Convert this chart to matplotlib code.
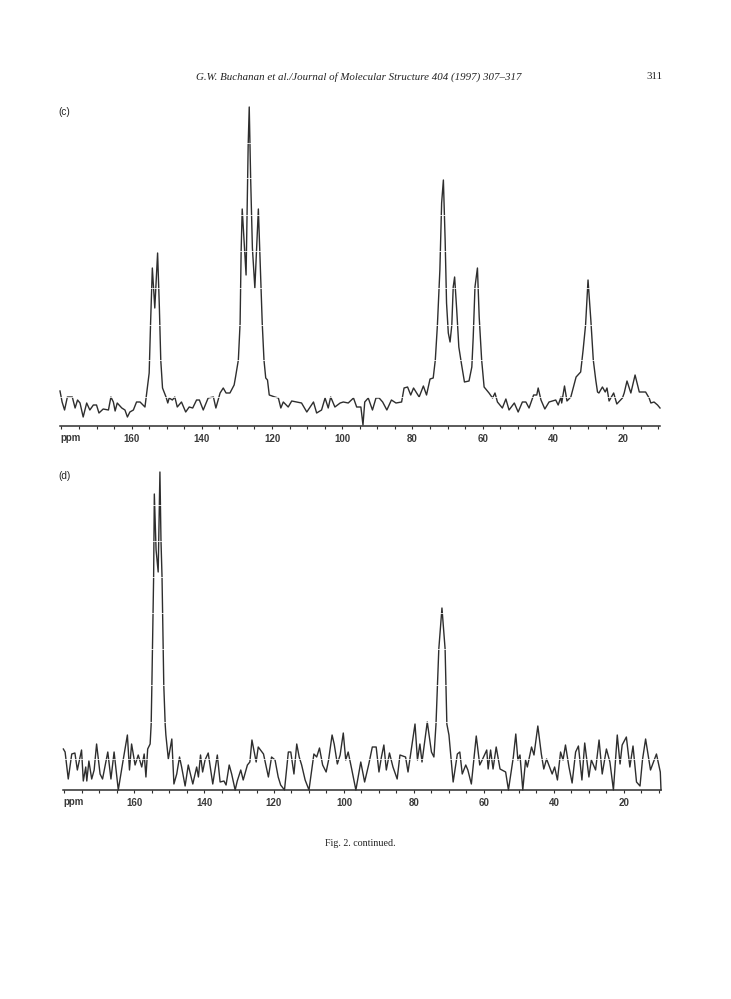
import matplotlib
matplotlib.use("Agg")
import matplotlib.pyplot as plt
from matplotlib.ticker import MultipleLocator

# ---------- data (ppm, intensity) ----------
ppm_c = [180.4,179.8,179.1,178.3,177.6,176.9,176.1,175.4,174.7,173.8,172.8,171.9,170.9,170.0,169.3,168.1,166.6,165.9,165.2,164.7,
         164.1,162.8,161.9,161.2,160.5,159.5,158.6,157.6,156.2,155.7,155.0,154.6,154.1,153.4,152.6,152.1,151.7,151.2,150.2,
         149.7,149.3,148.4,147.7,147.0,145.8,144.6,143.6,142.6,141.5,140.7,139.6,138.2,136.7,136.0,134.8,133.9,133.1,132.0,130.8,
         130.4,129.6,129.1,128.8,128.5,127.4,127.1,126.8,126.5,126.1,125.6,124.9,123.9,123.4,122.8,122.3,121.8,121.3,120.8,119.2,118.2,117.5,116.8,115.4,114.4,
         113.0,111.6,110.1,108.2,107.3,105.9,104.9,104.0,103.3,102.1,100.6,99.7,98.3,96.8,95.9,94.7,94.1,93.6,92.6,91.4,
         90.4,89.5,88.5,87.3,86.0,84.7,83.1,82.4,81.4,80.5,79.7,78.1,76.9,76.0,75.0,74.1,73.5,72.9,72.2,71.7,71.2,70.7,70.3,
         69.8,69.3,68.8,68.4,68.0,67.4,66.8,66.0,65.2,63.9,63.1,62.7,62.2,61.5,61.0,60.3,59.6,58.2,57.2,56.5,55.8,54.4,53.4,52.5,51.0,49.9,
         48.7,47.7,46.8,45.5,44.6,44.2,43.4,42.3,41.1,39.2,38.5,37.7,37.5,36.7,36.0,34.9,33.4,32.1,31.4,30.7,
         30.0,29.2,28.5,27.8,27.3,26.9,25.9,25.1,24.6,24.0,22.7,21.8,20.2,19.7,18.9,17.8,16.6,15.4,13.6,12.6,
         12.1,11.2,10.2,9.5]
int_c = [35,24,16,29,29,29,18,26,23,9,23,16,21,21,13,17,16,29,24,15,
         23,18,16,9,14,16,24,24,19,33,53,103,158,118,173,119,66,38,29,
         23,28,26,29,19,24,14,19,18,26,26,16,28,29,18,33,38,33,33,41,
         49,66,103,176,217,151,218,281,319,248,178,138,217,166,103,66,48,46,31,29,28,18,24,19,25,
         24,23,14,24,13,16,28,18,29,19,23,24,23,28,19,19,1,24,28,16,
         28,28,24,16,26,23,24,38,39,31,38,29,40,31,47,48,66,101,156,223,246,186,123,
         93,84,101,139,149,116,79,61,44,45,59,89,139,158,109,66,39,33,28,33,24,18,27,16,23,14,
         24,24,18,31,31,38,26,17,24,26,21,29,23,40,25,29,49,54,76,101,
         146,106,66,46,34,33,39,34,38,25,33,22,28,33,45,33,51,34,34,28,
         23,24,21,18]

ppm_d = [180.2,179.7,178.8,177.8,176.9,176.2,175.0,174.5,173.8,173.5,172.9,172.1,171.4,170.7,169.7,169.0,167.5,166.6,165.7,164.5,
         163.2,161.9,161.3,160.7,159.7,158.8,157.8,157.1,156.6,156.1,155.4,155.1,154.9,154.4,154.2,153.7,153.1,152.6,152.3,152.0,
         151.5,151.1,150.9,150.2,149.2,148.6,147.8,147.0,146.4,145.4,144.5,143.2,142.1,141.6,141.0,140.4,139.7,138.8,137.5,136.2,
         135.4,134.3,133.7,132.8,132.1,131.1,130.5,129.5,128.8,127.6,126.9,126.3,125.1,124.5,123.0,121.6,120.7,119.7,118.8,118.1,
         117.0,115.9,115.2,114.3,113.5,112.8,112.1,111.1,110.0,109.2,108.6,107.8,107.0,106.1,105.1,104.4,103.4,102.8,101.9,101.1,
         100.2,99.5,98.8,97.8,96.6,95.2,94.1,92.9,91.9,90.8,90.0,89.3,88.6,87.9,87.0,86.0,84.8,84.0,82.4,81.7,
         81.0,79.7,79.0,78.3,77.7,76.2,75.0,74.3,73.7,72.9,72.0,71.1,70.6,70.0,68.8,67.6,66.9,66.2,65.2,64.6,
         63.6,63.1,62.2,61.2,60.5,59.2,58.8,58.1,57.4,56.5,55.4,53.8,53.0,51.6,50.9,50.3,49.7,48.9,48.1,47.6,
         46.4,45.7,44.6,43.6,42.9,42.1,40.5,39.8,39.0,38.1,37.4,36.7,35.7,34.8,33.8,33.0,32.0,31.2,30.0,29.3,
         28.1,27.1,26.2,25.0,24.0,23.0,21.9,21.1,20.5,19.3,18.3,17.4,16.4,15.4,14.7,13.8,13.2,12.4,10.7,9.6,9.4]
int_d = [41,38,11,36,37,20,40,9,23,9,29,11,20,46,16,11,38,11,38,0,
         28,55,20,46,25,35,23,36,13,41,46,66,105,213,296,240,218,318,250,213,
         105,66,55,31,51,6,16,33,23,4,25,6,23,13,35,18,30,37,6,35,
         8,9,5,25,16,0,9,20,10,25,28,50,28,43,36,13,33,30,13,5,
         0,38,38,16,46,33,25,10,0,21,36,33,42,25,18,30,55,46,26,35,
         57,30,38,21,0,28,8,26,43,43,18,33,45,20,37,23,11,35,33,18,
         35,66,30,46,28,68,38,33,66,141,182,141,66,55,8,36,38,16,25,20,
         6,23,54,25,30,40,21,40,21,43,21,18,0,33,56,30,35,0,30,23,
         43,35,64,36,21,31,16,23,10,38,30,45,23,7,38,44,10,47,13,30,
         20,50,16,41,28,0,55,26,45,53,23,44,8,4,30,51,38,20,36,18,0]

scan_gaps_c = [29,66,101,138,175,211,248,283]
scan_gaps_d = [31,68,105,141,177,213,249,285]
major_ticks = [160,140,120,100,80,60,40,20]

W, H = 731, 999
INK = "#2e2e2e"
plt.rcParams['font.family'] = ['Liberation Sans', 'DejaVu Sans']
fig = plt.figure(figsize=(W/100, H/100), dpi=100, facecolor="white")

def panel(left, right, base, top, xlim, ppm, inten, gaps, tag, tag_y):
    ax = fig.add_axes([left/W, 1-base/H, (right-left)/W, (base-top)/H])
    ax.patch.set_alpha(0)
    ax.plot(ppm, inten, color=INK, lw=1.0, solid_joinstyle='round', clip_on=False, zorder=2)
    for g in gaps:
        ax.axhline(g, color="white", lw=0.55, zorder=3)
    ax.set_xlim(*xlim)
    ax.set_ylim(0, base-top)
    for s in ('left', 'right', 'top'):
        ax.spines[s].set_visible(False)
    ax.spines['bottom'].set_linewidth(1.1)
    ax.spines['bottom'].set_color(INK)
    ax.set_yticks([])
    ax.set_xticks(major_ticks)
    ax.xaxis.set_minor_locator(MultipleLocator(5))
    ax.tick_params(axis='x', which='both', length=2.2, width=0.8, color=INK, pad=3.3)
    for lab in ax.get_xticklabels():
        lab.set_fontsize(7); lab.set_fontweight('bold'); lab.set_color("#3a3a3a")
    fig.text((left+0.5)/W, 1-(base+12)/H, "ppm", fontsize=7, fontweight='bold', color="#3a3a3a", va='center', ha='left')
    fig.text(58/W, 1-tag_y/H, tag, fontsize=7.2, color="#222222", va='center', ha='left')
    return ax

panel(60, 660, 426, 100, (180.4, 9.5), ppm_c, int_c, scan_gaps_c, "(c)", 112)
panel(63, 661, 790, 465, (180.3, 9.4), ppm_d, int_d, scan_gaps_d, "(d)", 476)

fig.text(358.5/W, 1-77/H, "G.W. Buchanan et al./Journal of Molecular Structure 404 (1997) 307\u2013317",
         family=['Liberation Serif'], style='italic', fontsize=7.8, color="#222222", ha='center', va='center')
fig.text(654.5/W, 1-76/H, "311", family=['Liberation Serif'], fontsize=7.8, color="#222222", ha='center', va='center')
fig.text(360.5/W, 1-843.5/H, "Fig. 2. continued.", family=['Liberation Serif'], fontsize=7.2, color="#222222", ha='center', va='center')

fig.savefig("out.png", dpi=100)
